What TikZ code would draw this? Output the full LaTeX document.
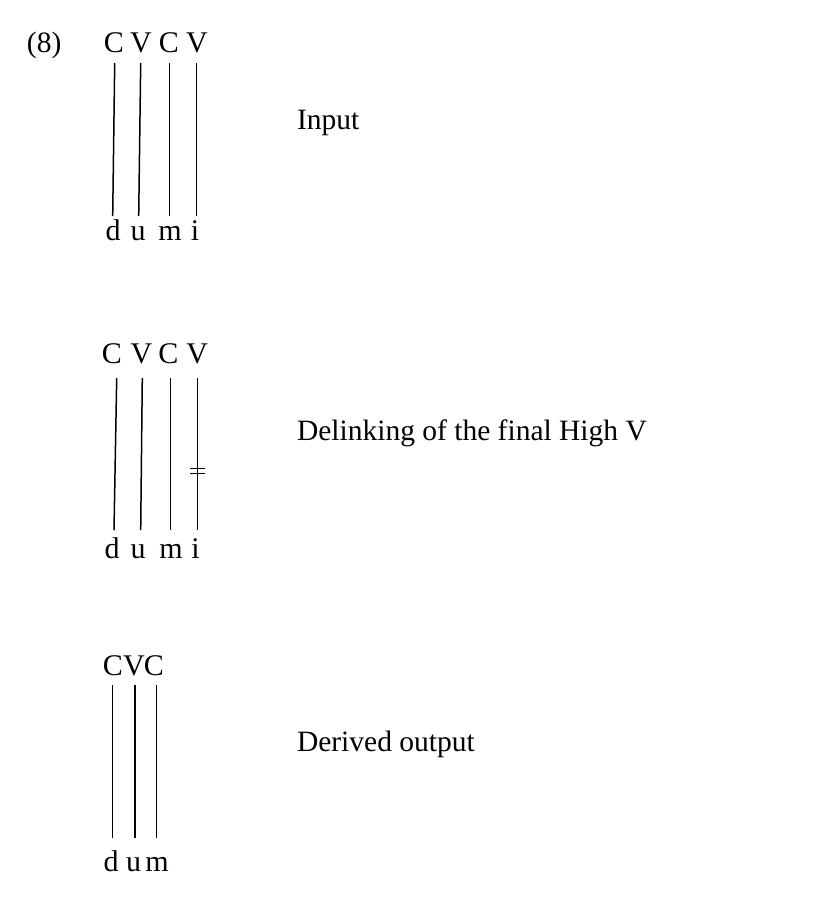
\documentclass[tikz,border=0pt]{standalone}
\usepackage{fontspec}
\setmainfont{Liberation Serif}
\begin{document}
\begin{tikzpicture}[x=1pt,y=-1pt,
  lab/.style={inner sep=0pt,outer sep=0pt,anchor=base,font=\fontsize{30}{32}\selectfont},
  txt/.style={inner sep=0pt,outer sep=0pt,anchor=base west,font=\fontsize{29.5}{32}\selectfont},
  assoc/.style={line width=1.5pt,line cap=butt},
  cut/.style={line width=1.2pt}]
\useasboundingbox (0,0) rectangle (827,898);
\fill[white] (0,0) rectangle (827,898);

\node[txt] (num) at (27,52) {(8)};

% ---- Row 1: Input ----
\node[lab] (a1) at (114,52) {C};
\node[lab] (a2) at (141,52) {V};
\node[lab] (a3) at (169,52) {C};
\node[lab] (a4) at (197,52) {V};
\node[lab] (b1) at (113,240) {d};
\node[lab] (b2) at (138,240) {u};
\node[lab] (b3) at (170,240) {m};
\node[lab] (b4) at (195,240) {i};
\coordinate (a1t) at (114.7,63);  \coordinate (b1t) at (112.7,216);
\coordinate (a2t) at (140.7,63);  \coordinate (b2t) at (138.7,216);
\coordinate (a3t) at (169.7,63);  \coordinate (b3t) at (169.7,216);
\coordinate (a4t) at (196.3,63);  \coordinate (b4t) at (196.3,216);
\draw[assoc] (a1t) -- (b1t);
\draw[assoc] (a2t) -- (b2t);
\draw[assoc] (a3t) -- (b3t);
\draw[assoc] (a4t) -- (b4t);
\node[txt] (l1) at (297,129) {Input};

% ---- Row 2: Delinking ----
\node[lab] (c1) at (112,363) {C};
\node[lab] (c2) at (141.5,363) {V};
\node[lab] (c3) at (168.5,363) {C};
\node[lab] (c4) at (197.3,363) {V};
\node[lab] (d1) at (112,558) {d};
\node[lab] (d2) at (138,558) {u};
\node[lab] (d3) at (171,558) {m};
\node[lab] (d4) at (195.5,558) {i};
\coordinate (c1t) at (116.7,378);  \coordinate (d1t) at (114,530);
\coordinate (c2t) at (142.3,378);  \coordinate (d2t) at (140.7,530);
\coordinate (c3t) at (170.7,378);  \coordinate (d3t) at (170.7,530);
\coordinate (c4t) at (197.7,378);  \coordinate (d4t) at (197.7,530);
\draw[assoc] (c1t) -- (d1t);
\draw[assoc] (c2t) -- (d2t);
\draw[assoc] (c3t) -- (d3t);
\draw[assoc] (c4t) -- (d4t);
\coordinate (x1l) at (190,468.5); \coordinate (x1r) at (205,468.5);
\coordinate (x2l) at (190,473.5); \coordinate (x2r) at (205,473.5);
\draw[cut] (x1l) -- (x1r);
\draw[cut] (x2l) -- (x2r);
\node[txt] (l2) at (297,440.5) {Delinking of the final High V};

% ---- Row 3: Derived output ----
\node[lab] (e1) at (113,675) {C};
\node[lab] (e2) at (134,675) {V};
\node[lab] (e3) at (154,675) {C};
\node[lab] (f1) at (111,871) {d};
\node[lab] (f2) at (133.5,871) {u};
\node[lab] (f3) at (157,871) {m};
\coordinate (e1t) at (112.7,685);  \coordinate (f1t) at (112.7,838);
\coordinate (e2t) at (135,685);    \coordinate (f2t) at (135,838);
\coordinate (e3t) at (156.7,685);  \coordinate (f3t) at (156.7,838);
\draw[assoc] (e1t) -- (f1t);
\draw[assoc] (e2t) -- (f2t);
\draw[assoc] (e3t) -- (f3t);
\node[txt] (l3) at (297,751.5) {Derived output};
\end{tikzpicture}
\end{document}
